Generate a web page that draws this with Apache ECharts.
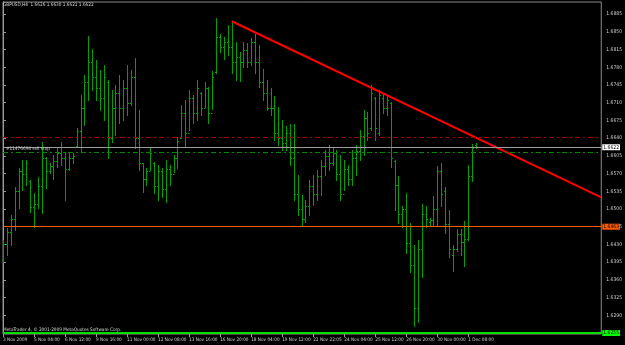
<!DOCTYPE html>
<html><head><meta charset="utf-8">
<script src="https://cdn.jsdelivr.net/npm/echarts@6/dist/echarts.min.js"></script>
<style>html,body{margin:0;padding:0;background:#000;}#c{width:625px;height:345px;}</style>
</head><body><div id="c"></div>
<script>
const symbolTitle = 'GBPUSD,H4';
const opens  = [1.6400,1.6430,1.6455,1.6480,1.6535,1.6575,1.6570,1.6555,1.6504,1.6510,1.6545,1.6600,1.6575,1.6585,1.6595,1.6610,1.6600,1.6580,1.6600,1.6625,1.6655,1.6700,1.6750,1.6790,1.6760,1.6740,1.6720,1.6750,1.6640,1.6700,1.6730,1.6700,1.6740,1.6710,1.6760,1.6640,1.6590,1.6560,1.6575,1.6590,1.6545,1.6575,1.6540,1.6580,1.6570,1.6600,1.6640,1.6690,1.6650,1.6720,1.6690,1.6730,1.6700,1.6740,1.6690,1.6770,1.6840,1.6820,1.6830,1.6820,1.6790,1.6800,1.6790,1.6815,1.6790,1.6830,1.6790,1.6750,1.6730,1.6700,1.6700,1.6650,1.6640,1.6630,1.6650,1.6600,1.6530,1.6500,1.6480,1.6505,1.6545,1.6530,1.6565,1.6585,1.6605,1.6590,1.6610,1.6570,1.6530,1.6580,1.6560,1.6600,1.6615,1.6645,1.6680,1.6660,1.6720,1.6650,1.6720,1.6700,1.6710,1.6595,1.6547,1.6490,1.6500,1.6432,1.6390,1.6305,1.6420,1.6490,1.6475,1.6478,1.6500,1.6575,1.6535,1.6470,1.6410,1.6420,1.6450,1.6435,1.6440,1.6565,1.6626];
const highs  = [1.6438,1.6462,1.6488,1.6543,1.6581,1.6596,1.6596,1.6557,1.6531,1.6563,1.6632,1.6602,1.6590,1.6606,1.6620,1.6632,1.6612,1.6610,1.6610,1.6660,1.6725,1.6764,1.6842,1.6816,1.6794,1.6774,1.6784,1.6755,1.6735,1.6745,1.6764,1.6755,1.6784,1.6774,1.6798,1.6695,1.6590,1.6581,1.6622,1.6592,1.6587,1.6581,1.6596,1.6587,1.6606,1.6642,1.6705,1.6715,1.6735,1.6725,1.6755,1.6731,1.6751,1.6741,1.6772,1.6877,1.6845,1.6840,1.6863,1.6870,1.6830,1.6810,1.6830,1.6828,1.6838,1.6845,1.6824,1.6776,1.6755,1.6739,1.6723,1.6701,1.6675,1.6664,1.6668,1.6668,1.6567,1.6527,1.6517,1.6557,1.6567,1.6577,1.6596,1.6616,1.6626,1.6620,1.6616,1.6606,1.6596,1.6587,1.6616,1.6626,1.6656,1.6695,1.6691,1.6745,1.6721,1.6735,1.6729,1.6725,1.6711,1.6596,1.6565,1.6505,1.6531,1.6472,1.6428,1.6438,1.6509,1.6505,1.6482,1.6525,1.6585,1.6590,1.6543,1.6498,1.6428,1.6460,1.6460,1.6476,1.6587,1.6628,1.6630];
const lows   = [1.6395,1.6409,1.6428,1.6458,1.6502,1.6537,1.6547,1.6494,1.6464,1.6502,1.6492,1.6541,1.6571,1.6559,1.6583,1.6587,1.6517,1.6577,1.6590,1.6622,1.6612,1.6666,1.6715,1.6735,1.6715,1.6695,1.6675,1.6600,1.6632,1.6646,1.6670,1.6675,1.6685,1.6705,1.6620,1.6577,1.6533,1.6547,1.6577,1.6531,1.6517,1.6523,1.6513,1.6547,1.6573,1.6581,1.6640,1.6622,1.6656,1.6670,1.6675,1.6685,1.6701,1.6670,1.6697,1.6768,1.6810,1.6796,1.6804,1.6768,1.6755,1.6753,1.6780,1.6780,1.6784,1.6768,1.6741,1.6715,1.6695,1.6685,1.6636,1.6626,1.6616,1.6616,1.6587,1.6517,1.6488,1.6468,1.6474,1.6488,1.6507,1.6517,1.6527,1.6567,1.6577,1.6587,1.6557,1.6517,1.6537,1.6547,1.6547,1.6567,1.6596,1.6606,1.6636,1.6656,1.6636,1.6646,1.6689,1.6685,1.6583,1.6498,1.6472,1.6464,1.6413,1.6375,1.6268,1.6276,1.6365,1.6464,1.6468,1.6466,1.6466,1.6505,1.6452,1.6405,1.6377,1.6417,1.6409,1.6387,1.6438,1.6555,1.6621];
const closes = [1.6430,1.6455,1.6480,1.6535,1.6575,1.6570,1.6590,1.6504,1.6510,1.6545,1.6600,1.6575,1.6585,1.6595,1.6610,1.6600,1.6580,1.6600,1.6605,1.6655,1.6700,1.6750,1.6790,1.6760,1.6740,1.6720,1.6760,1.6640,1.6700,1.6730,1.6700,1.6740,1.6710,1.6760,1.6640,1.6590,1.6560,1.6575,1.6610,1.6545,1.6575,1.6540,1.6580,1.6570,1.6600,1.6635,1.6690,1.6650,1.6720,1.6690,1.6740,1.6700,1.6740,1.6690,1.6760,1.6840,1.6820,1.6830,1.6820,1.6790,1.6800,1.6790,1.6815,1.6790,1.6830,1.6790,1.6750,1.6730,1.6700,1.6700,1.6650,1.6640,1.6630,1.6650,1.6600,1.6530,1.6500,1.6480,1.6505,1.6545,1.6530,1.6565,1.6585,1.6605,1.6590,1.6610,1.6570,1.6530,1.6580,1.6560,1.6600,1.6615,1.6645,1.6680,1.6650,1.6730,1.6660,1.6725,1.6700,1.6715,1.6600,1.6547,1.6490,1.6500,1.6432,1.6390,1.6305,1.6420,1.6490,1.6480,1.6478,1.6500,1.6575,1.6530,1.6470,1.6420,1.6420,1.6450,1.6435,1.6440,1.6565,1.6620,1.6622];
const timeLabels = ['3 Nov 2009','5 Nov 04:00','6 Nov 12:00','9 Nov 16:00','11 Nov 00:00','12 Nov 08:00','13 Nov 16:00','16 Nov 20:00','18 Nov 04:00','19 Nov 12:00','22 Nov 22:05','24 Nov 04:00','25 Nov 12:00','26 Nov 20:00','30 Nov 00:00','1 Dec 08:00'];
const timeLabelBars = [0,8,16,24,32,40,48,56,64,72,80,88,96,104,112,120];
const priceTicks = [1.6290,1.6325,1.6360,1.6395,1.6430,1.6465,1.6500,1.6535,1.6570,1.6605,1.6640,1.6675,1.6710,1.6745,1.6780,1.6815,1.6850,1.6885];
const trendX = [59, 154.3];
const trendY = [1.6871, 1.6523];
const levelStopLoss = 1.6641;
const levelBid = 1.6622;
const levelSellStop = 1.6612;
const levelOrange = 1.6465;
const levelOrangeText = '1.6463';
const levelGreen = 1.6255;
const sellStopText = '#11476694 sell stop';
const copyrightText = 'MetaTrader 4, \u00a9 2001-2009 MetaQuotes Software Corp.';

const FONT = '"Liberation Sans Narrow","DejaVu Sans Condensed","Liberation Sans",sans-serif';
const bars = opens.map((o, i) => [i, o, highs[i], lows[i], closes[i]]);
const last = bars.length - 1;
const titleText = symbolTitle + '  ' + [opens[last], highs[last], lows[last], closes[last]].map(v => v.toFixed(4)).join(' ');
const BAR = '#00a000';
const boxLabel = (text, bg) => ({show: true, position: 'end', distance: 1, formatter: text, color: '#000', backgroundColor: bg, padding: [1, 1, 0, 1], fontSize: 5, fontFamily: FONT});

const chart = echarts.init(document.getElementById('c'), null, {renderer: 'canvas'});
chart.setOption({
  backgroundColor: '#000000',
  animation: false,
  title: {text: titleText, left: 3, top: 2, padding: 0, textStyle: {color: '#d8d8d8', fontSize: 4.7, fontWeight: 'normal', fontFamily: FONT}},
  grid: {left: 1, top: 2, right: 19, bottom: 11, show: true, borderColor: '#8a8a8a', borderWidth: 1, backgroundColor: '#000000'},
  xAxis: {
    type: 'value', min: 0, max: 154.3, position: 'bottom',
    splitLine: {show: false}, axisLine: {show: false},
    axisTick: {show: true, customValues: timeLabelBars, length: 3, lineStyle: {color: '#9a9a9a'}},
    axisLabel: {customValues: timeLabelBars, color: '#d0d0d0', fontSize: 4.7, fontFamily: FONT, align: 'left', margin: 3,
      formatter: v => timeLabels[timeLabelBars.indexOf(Math.round(v))] || ''}
  },
  yAxis: {
    type: 'value', position: 'right', min: 1.6253, max: 1.6909, scale: true,
    splitLine: {show: false},
    axisLine: {show: true, lineStyle: {color: '#9a9a9a'}},
    axisTick: {show: true, customValues: priceTicks, length: 3, lineStyle: {color: '#9a9a9a'}},
    axisLabel: {customValues: priceTicks, color: '#d0d0d0', fontSize: 5, fontFamily: FONT, margin: 5, formatter: v => v.toFixed(4)}
  },
  series: [
    {
      type: 'custom', data: bars, clip: false,
      encode: {x: 0, y: [1, 2, 3, 4]},
      renderItem: function (params, api) {
        const i = api.value(0);
        const ph = api.coord([i, api.value(2)]);
        const pl = api.coord([i, api.value(3)]);
        const po = api.coord([i, api.value(1)]);
        const pc = api.coord([i, api.value(4)]);
        const x = Math.round(ph[0]) + 0.5;
        const yo = Math.round(po[1]) + 0.5, yc = Math.round(pc[1]) + 0.5;
        return {type: 'group', children: [
          {type: 'line', shape: {x1: x, y1: Math.round(ph[1]), x2: x, y2: Math.round(pl[1]) + 1}, style: {stroke: BAR, lineWidth: 1}},
          {type: 'line', shape: {x1: x - 1.5, y1: yo, x2: x, y2: yo}, style: {stroke: BAR, lineWidth: 1}},
          {type: 'line', shape: {x1: x, y1: yc, x2: x + 1.5, y2: yc}, style: {stroke: BAR, lineWidth: 1}}
        ]};
      }
    },
    {
      type: 'line', data: trendX.map((x, k) => [x, trendY[k]]), symbol: 'none', silent: true,
      lineStyle: {color: '#ff0000', width: 2}, clip: false, z: 3,
      markLine: {
        silent: true, symbol: 'none', animation: false, precision: 4,
        data: [
          {yAxis: levelStopLoss, lineStyle: {color: '#a00000', width: 1, type: [5, 3, 2, 3]}, label: {show: false}},
          {yAxis: levelBid, lineStyle: {color: '#9c9c9c', width: 1, type: 'solid'}, label: boxLabel(levelBid.toFixed(4), '#ffffff')},
          {yAxis: levelSellStop, lineStyle: {color: '#008a00', width: 1, type: [5, 3, 2, 3]},
            label: {show: true, position: 'insideStartTop', distance: [3, 1], formatter: sellStopText, color: '#cfcfcf', fontSize: 4.7, fontFamily: FONT}},
          {yAxis: levelOrange, lineStyle: {color: '#ff5a00', width: 1, type: 'solid'}, label: boxLabel(levelOrangeText, '#ff5a00')},
          {yAxis: levelGreen, lineStyle: {color: '#00e000', width: 2, type: 'solid'}, label: boxLabel(levelGreen.toFixed(4), '#00ff00')}
        ]
      }
    }
  ],
  graphic: [
    {type: 'text', left: 3, top: 327, style: {text: copyrightText, fill: '#d8d8d8', font: '4.7px ' + FONT}}
  ]
});
</script></body></html>
